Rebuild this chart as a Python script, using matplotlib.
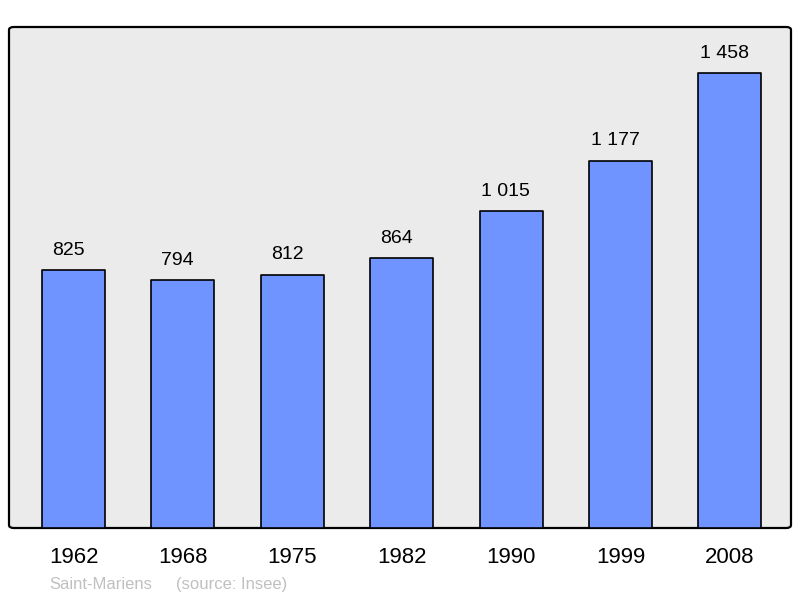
import matplotlib
matplotlib.use("Agg")
import matplotlib.pyplot as plt
from matplotlib.patches import FancyBboxPatch

years = ["1962", "1968", "1975", "1982", "1990", "1999", "2008"]
population = [825, 794, 812, 864, 1015, 1177, 1458]
value_labels = ["825", "794", "812", "864", "1 015", "1 177", "1 458"]

plt.rcParams['font.family'] = ['Liberation Sans', 'DejaVu Sans']

fig = plt.figure(figsize=(8, 5.98), dpi=100)
ax = fig.add_axes([9/800, (598-528)/598, 782/800, 501/598])
ax.set_facecolor('none')

x = list(range(len(years)))
ax.bar(x, population, width=0.576, color='#7094ff', edgecolor='black', linewidth=1.2,
       joinstyle='round', zorder=3)
for xi, v, lab in zip(x, population, value_labels):
    ax.annotate(lab, (xi, v), xytext=(-3.8, 11), textcoords='offset points',
                ha='center', va='baseline', fontsize=14, color='black')

ax.set_xlim(-0.59, 6.56)
ax.set_ylim(0, 1605)
ax.set_xticks(x)
ax.set_xticklabels(years, fontsize=16)
ax.tick_params(axis='x', length=0, pad=14)
ax.set_yticks([])
for s in ax.spines.values():
    s.set_visible(False)

frame = FancyBboxPatch((0, 0), 1, 1, boxstyle="round,pad=0,rounding_size=0.006",
                       transform=ax.transAxes, facecolor='#ebebeb', edgecolor='black',
                       linewidth=1.6, zorder=0, clip_on=False)
ax.add_patch(frame)

fig.text(49/800, 1 - 589/598, "Saint-Mariens", fontsize=12, color='#c0c0c0', va='baseline')
fig.text(176/800, 1 - 589/598, "(source: Insee)", fontsize=12, color='#c0c0c0', va='baseline')

fig.savefig("out.png", dpi=100)
